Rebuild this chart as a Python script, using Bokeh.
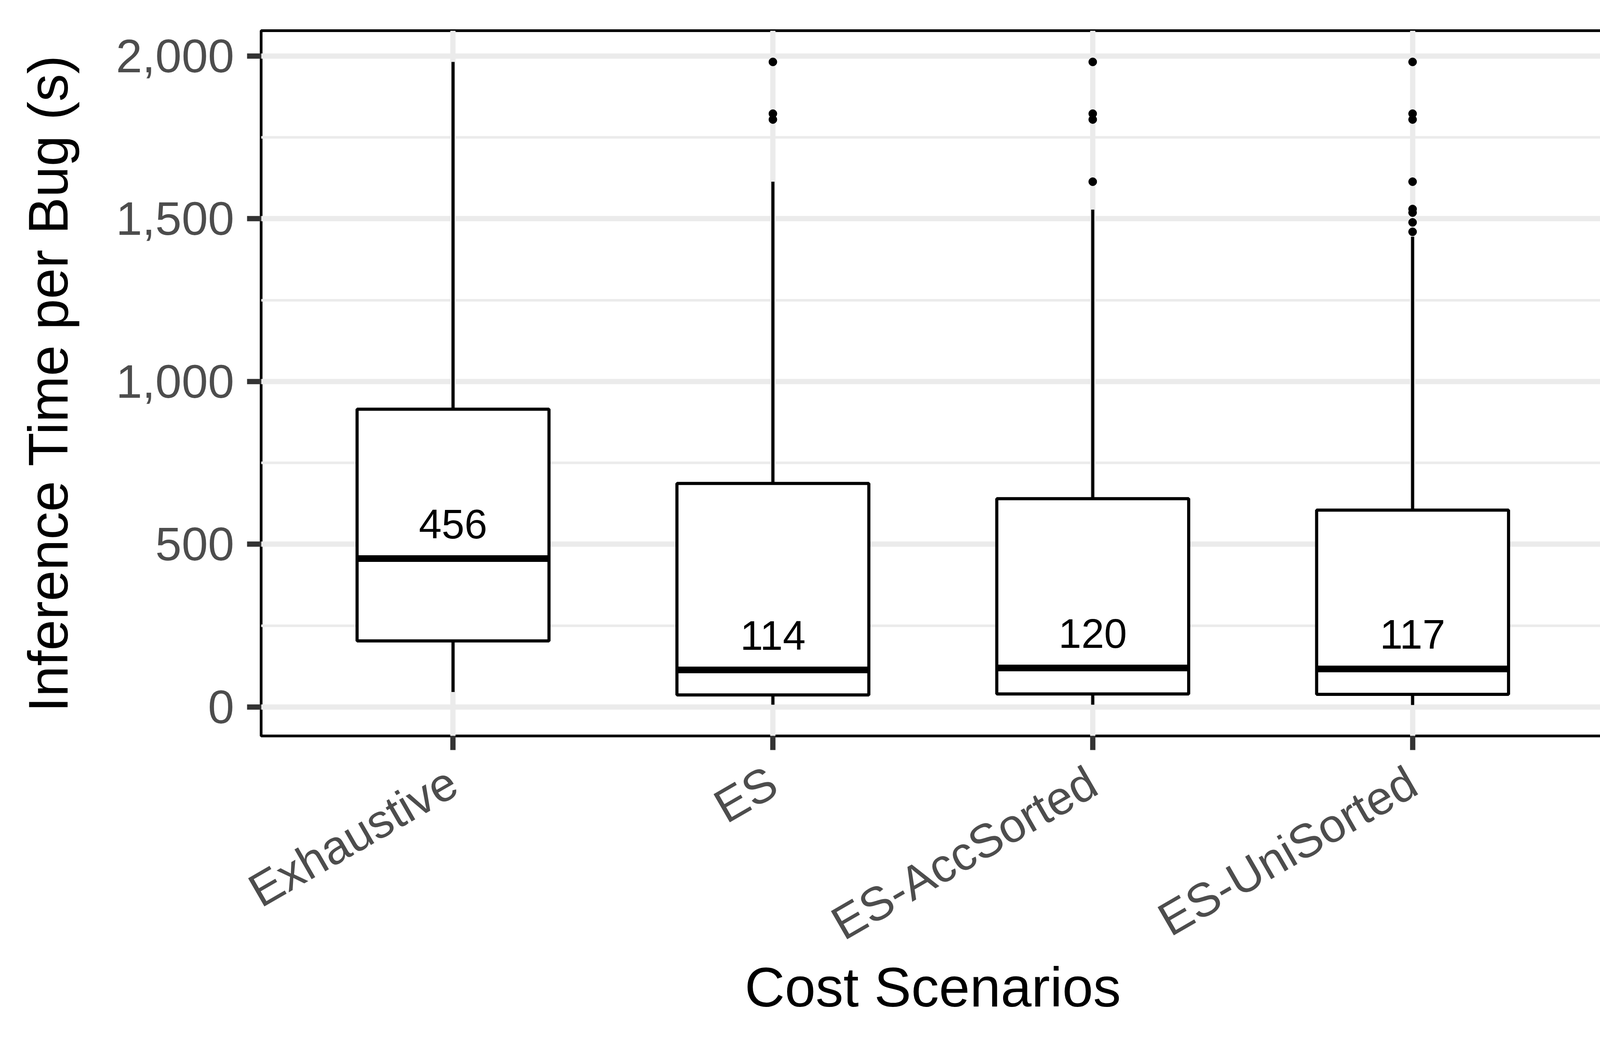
import math
from bokeh.plotting import figure
from bokeh.models import (ColumnDataSource, FactorRange, FixedTicker,
                          NumeralTickFormatter)
from bokeh.transform import dodge
from bokeh.core.properties import value
from bokeh.embed import file_html
from bokeh.resources import INLINE

# ---------------- data ----------------
categories = ["Exhaustive", "ES", "ES-AccSorted", "ES-UniSorted"]
q1 = [203, 37, 40, 39]
medians = [456, 114, 120, 117]
q3 = [915, 687, 640, 605]
whisker_low = [46, 7, 7, 6]
whisker_high = [1982, 1614, 1528, 1445]

outlier_cat = (["ES"] * 3 + ["ES-AccSorted"] * 4 + ["ES-UniSorted"] * 8)
outlier_val = ([1982, 1823, 1805] +
               [1982, 1823, 1805, 1614] +
               [1982, 1823, 1805, 1614, 1530, 1519, 1489, 1460])

y_ticks = [0, 500, 1000, 1500, 2000]
y_minor = [250, 750, 1250, 1750]
y_start, y_end = -89, 2078

FONT = "Liberation Sans"

# ---------------- figure ----------------
p = figure(width=4184, height=2684, output_backend="svg", toolbar_location=None,
           x_range=FactorRange(factors=categories, range_padding=0.05),
           y_range=(y_start, y_end),
           min_border_left=668, min_border_right=77,
           min_border_top=78, min_border_bottom=801)

p.background_fill_color = "white"
p.border_fill_color = "white"
p.outline_line_color = "black"
p.outline_line_width = 7

# grid
p.xgrid.grid_line_color = "#EBEBEB"
p.xgrid.grid_line_width = 13.5
p.ygrid.grid_line_color = "#EBEBEB"
p.ygrid.grid_line_width = 13.5
p.ygrid.minor_grid_line_color = "#EBEBEB"
p.ygrid.minor_grid_line_width = 6.7

# axes
p.yaxis.ticker = FixedTicker(ticks=y_ticks, minor_ticks=y_minor)
p.yaxis.formatter = NumeralTickFormatter(format="0,0")
for ax in (p.xaxis[0], p.yaxis[0]):
    ax.axis_line_color = None
    ax.major_tick_in = 0
    ax.major_tick_out = 36
    ax.major_tick_line_color = "#333333"
    ax.major_tick_line_width = 13.5
    ax.minor_tick_line_color = None
    ax.major_label_text_font = FONT
    ax.major_label_text_font_size = "121px"
    ax.major_label_text_color = "#4D4D4D"
    ax.axis_label_text_font = FONT
    ax.axis_label_text_font_size = "142px"
    ax.axis_label_text_font_style = "normal"
    ax.axis_label_text_color = "black"

p.yaxis.axis_label = "Inference Time per Bug (s)"
p.yaxis.major_label_standoff = 33
p.yaxis.axis_label_standoff = 91

p.xaxis.axis_label = "Cost Scenarios"
p.xaxis.major_label_orientation = math.pi / 6
p.xaxis.major_label_standoff = 73
p.xaxis.axis_label_standoff = -46

# ---------------- glyphs ----------------
src = ColumnDataSource(dict(cat=categories, q1=q1, med=medians, q3=q3,
                            lo=whisker_low, hi=whisker_high,
                            lab=[str(m) for m in medians]))

# whiskers
p.segment(x0="cat", y0="q3", x1="cat", y1="hi", source=src,
          line_color="black", line_width=8)
p.segment(x0="cat", y0="lo", x1="cat", y1="q1", source=src,
          line_color="black", line_width=8)
# boxes
p.vbar(x="cat", bottom="q1", top="q3", width=0.6, source=src,
       fill_color="white", line_color="black", line_width=8)
# medians
p.segment(x0=dodge("cat", -0.3, range=p.x_range), y0="med",
          x1=dodge("cat", 0.3, range=p.x_range), y1="med", source=src,
          line_color="black", line_width=17)
# outliers
p.scatter(x=outlier_cat, y=outlier_val, size=21, color="black")
# median labels
p.text(x="cat", y="med", text="lab", source=src, y_offset=-88,
       text_align="center", text_baseline="alphabetic",
       text_font=value(FONT), text_font_size="105px", text_color="black")

open("out.html", "w").write(file_html(p, INLINE))
